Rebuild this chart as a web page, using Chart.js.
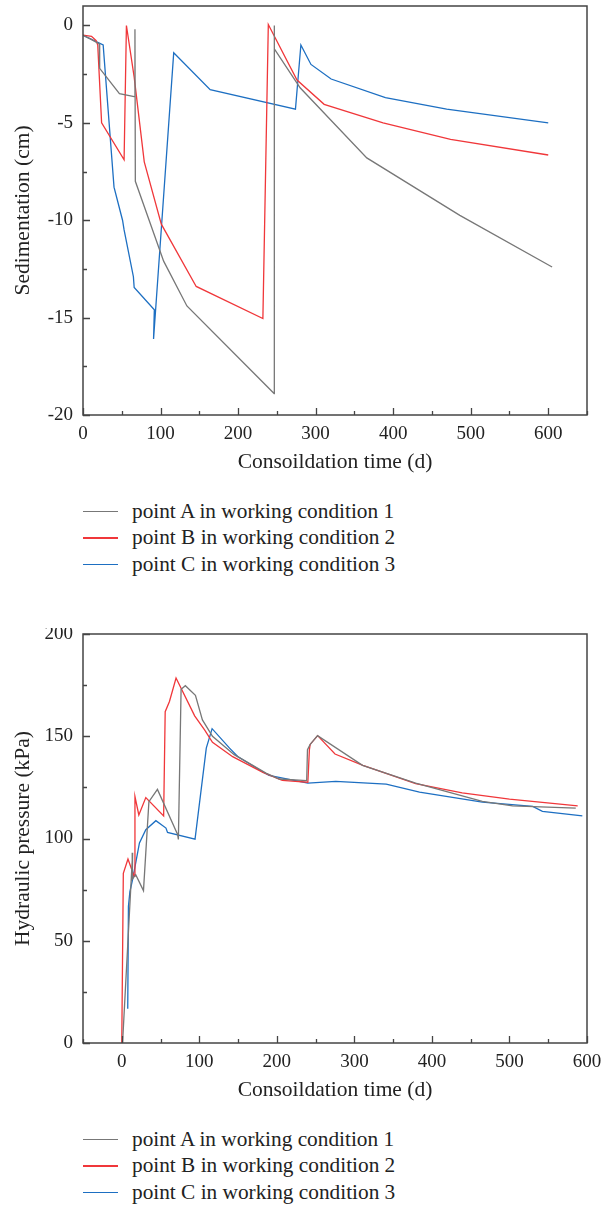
<!DOCTYPE html>
<html>
<head>
<meta charset="utf-8">
<script src="https://cdn.jsdelivr.net/npm/chart.js@4.4.1/dist/chart.umd.min.js"></script>
<style>
body{margin:0;background:#fff;width:612px;height:1211px;position:relative;font-family:"Liberation Serif","DejaVu Serif",serif;color:#222}
.box{position:absolute;left:0;width:612px;height:475px}
.legend{position:absolute;left:83px;font-size:21.3px}
.legend div{height:26.5px;display:flex;align-items:center;white-space:nowrap}
.legend .sw{display:inline-block;width:35px;height:1.5px;margin-right:14px}
</style>
</head>
<body>
<div class="box" style="top:0"><canvas id="settle"></canvas></div>
<div class="legend" style="top:498px">
  <div><span class="sw" style="background:#777"></span>point A in working condition 1</div>
  <div><span class="sw" style="background:#f0373a"></span>point B in working condition 2</div>
  <div><span class="sw" style="background:#1d6fc2"></span>point C in working condition 3</div>
</div>
<div class="box" style="top:628px"><canvas id="press"></canvas></div>
<div class="legend" style="top:1126px">
  <div><span class="sw" style="background:#777"></span>point A in working condition 1</div>
  <div><span class="sw" style="background:#f0373a"></span>point B in working condition 2</div>
  <div><span class="sw" style="background:#1d6fc2"></span>point C in working condition 3</div>
</div>
<script>
// series names
const names = ['point A in working condition 1', 'point B in working condition 2', 'point C in working condition 3'];

// sedimentation (cm) vs consolidation time (d)
const aTime = [0, 10, 21, 21.5, 47, 66, 67, 67.5, 104, 134, 246.5, 246.5, 247, 280, 366, 486, 605];
const aSettle = [-0.5, -0.7, -0.95, -2.2, -3.5, -3.65, -0.2, -8.0, -12.1, -14.4, -18.9, 0, -1.2, -3.2, -6.8, -9.75, -12.4];
const bTime = [0, 11, 17, 19, 24, 53, 56, 66, 79, 101, 146, 232, 239, 276, 311, 387, 474, 600];
const bSettle = [-0.5, -0.56, -0.78, -1.0, -5.0, -6.9, 0, -2.65, -7.0, -10.2, -13.4, -15.05, 0.05, -2.8, -4.05, -5.0, -5.85, -6.65];
const cTime = [0, 26, 40, 51, 53, 65, 66, 92, 91, 117, 164, 274, 281, 294, 320, 390, 469, 600];
const cSettle = [-0.5, -1.0, -8.3, -10.0, -10.5, -12.9, -13.45, -14.6, -16.1, -1.4, -3.3, -4.3, -1.0, -2.0, -2.75, -3.7, -4.3, -5.0];

// hydraulic pressure (kPa) vs consolidation time (d)
const aTime2 = [1, 14, 13.5, 18, 28, 35, 46, 72, 73, 76.5, 82, 95, 104, 117, 145, 165, 186, 203, 238.5, 239.5, 243, 252.5, 310.5, 379, 465, 504, 585.5];
const aPress = [0, 93, 80, 82.3, 74.5, 118, 124, 102, 99.5, 173, 174.7, 170, 158, 150, 141, 136.6, 132, 129.1, 128.3, 143.4, 146, 150.3, 135.8, 127.1, 118.2, 116, 114.9];
const bTime2 = [0, 2, 8, 16, 17, 22, 31, 54, 56, 61.5, 70, 94, 107, 117, 143, 182, 207, 240, 242, 243, 252.6, 275, 311, 379, 439, 500, 588];
const bPress = [0, 83, 90, 81.5, 120.5, 111.5, 120, 111, 162, 167, 178.5, 160, 153, 147, 140, 132.3, 128.4, 127.5, 143.5, 146, 150.3, 141.3, 135.8, 126.8, 122.3, 119.3, 116];
const cTime2 = [7.7, 8.6, 10.5, 14, 22.8, 31, 44, 57, 59, 94.5, 109, 116.5, 139, 149.5, 182, 190, 240, 276, 341, 384, 465, 530, 542.5, 594];
const cPress = [16.8, 66.8, 74, 80, 97.8, 104.3, 108.7, 105.1, 103, 99.7, 144.2, 153.7, 144.2, 140.1, 132.5, 130.9, 127.1, 127.9, 126.6, 122.7, 117.8, 115.7, 113.3, 111.1];

// tick labels
const settleXTicks = [0, 100, 200, 300, 400, 500, 600];
const settleYTicks = [-20, -15, -10, -5, 0];
const pressXTicks = [0, 100, 200, 300, 400, 500, 600];
const pressYTicks = [0, 50, 100, 150, 200];

const colors = ['#777777', '#f0373a', '#1d6fc2'];

function pairs(xs, ys) {
  return xs.map((x, i) => ({x: x, y: ys[i]}));
}

// box round the plot and inward ticks, minor ones halfway between
function makeFrame(xStep, yStep) {
  return {
    id: 'frame',
    afterDraw(chart) {
      const {ctx, chartArea: a} = chart;
      const sx = chart.scales.x, sy = chart.scales.y;
      ctx.save();
      ctx.strokeStyle = '#444';
      ctx.lineWidth = 1.5;
      ctx.strokeRect(a.left, a.top, a.right - a.left, a.bottom - a.top);
      ctx.lineWidth = 1.3;
      ctx.beginPath();
      let h = xStep / 2;
      for (let v = Math.ceil(sx.min / h) * h; v <= sx.max; v += h) {
        const px = Math.round(sx.getPixelForValue(v)) + 0.5;
        const len = (v % xStep === 0) ? 7 : 4;
        ctx.moveTo(px, a.bottom);
        ctx.lineTo(px, a.bottom - len);
      }
      h = yStep / 2;
      for (let v = Math.ceil(sy.min / h) * h; v <= sy.max; v += h) {
        const py = Math.round(sy.getPixelForValue(v)) + 0.5;
        const len = (v % yStep === 0) ? 7 : 4;
        ctx.moveTo(a.left, py);
        ctx.lineTo(a.left + len, py);
      }
      ctx.stroke();
      ctx.restore();
    }
  };
}

const tickFont = {family: '"Liberation Serif", "DejaVu Serif", serif', size: 19};
const titleFont = {family: '"Liberation Serif", "DejaVu Serif", serif', size: 21.5};

function makeChart(id, sets, xr, yr, ytitle) {
  return new Chart(document.getElementById(id), {
    type: 'scatter',
    data: {
      datasets: sets.map((s, i) => ({
        label: names[i],
        data: s,
        showLine: true,
        borderColor: colors[i],
        borderWidth: 1.3,
        pointRadius: 0,
        tension: 0
      }))
    },
    options: {
      responsive: false,
      animation: false,
      layout: {padding: {left: 0, top: 6, right: 25, bottom: 0}},
      plugins: {
        legend: {display: false},
        tooltip: {enabled: false}
      },
      scales: {
        x: {
          type: 'linear', min: xr.min, max: xr.max,
          grid: {display: false, drawTicks: false},
          border: {display: false},
          ticks: {color: '#222', font: tickFont, padding: 8, maxRotation: 0, autoSkip: false},
          afterBuildTicks: s => { s.ticks = xr.ticks.map(v => ({value: v})); },
          afterFit: s => { s.height = 60; s.paddingLeft = 0; s.paddingRight = 0; },
          title: {display: true, text: 'Consoildation time (d)', color: '#222', font: titleFont, padding: {top: 0, bottom: 0}}
        },
        y: {
          type: 'linear', min: yr.min, max: yr.max,
          grid: {display: false, drawTicks: false},
          border: {display: false},
          ticks: {color: '#222', font: tickFont, padding: 10, autoSkip: false},
          afterBuildTicks: s => { s.ticks = yr.ticks.map(v => ({value: v})); },
          afterFit: s => { s.width = 83; s.paddingTop = 0; s.paddingBottom = 0; },
          title: {display: true, text: ytitle, color: '#222', font: titleFont, padding: {top: 10, bottom: 0}}
        }
      }
    },
    plugins: [makeFrame(xr.step, yr.step)]
  });
}

document.getElementById('settle').width = 612;
document.getElementById('settle').height = 475;
document.getElementById('press').width = 612;
document.getElementById('press').height = 475;

makeChart('settle',
  [pairs(aTime, aSettle), pairs(bTime, bSettle), pairs(cTime, cSettle)],
  {min: 0, max: 650, step: 100, ticks: settleXTicks},
  {min: -20, max: 1, step: 5, ticks: settleYTicks}, 'Sedimentation (cm)');

makeChart('press',
  [pairs(aTime2, aPress), pairs(bTime2, bPress), pairs(cTime2, cPress)],
  {min: -50, max: 600, step: 100, ticks: pressXTicks},
  {min: 0, max: 200, step: 50, ticks: pressYTicks}, 'Hydraulic pressure (kPa)');
</script>
</body>
</html>
